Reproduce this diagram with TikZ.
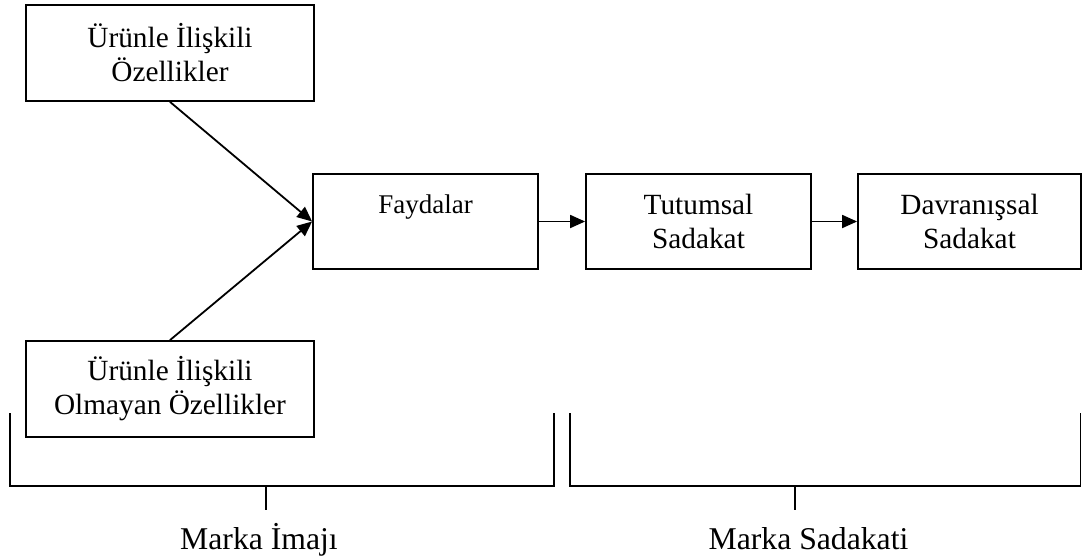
\documentclass[tikz,border=0pt]{standalone}
\usepackage{fontspec}
\setmainfont{Liberation Serif}
\usetikzlibrary{arrows.meta}
\begin{document}
\begin{tikzpicture}[x=1pt,y=-1pt,
  line width=1.8pt,
  box/.style={draw, rectangle, inner sep=0pt, align=center,
    font=\fontsize{29.3}{34}\selectfont},
  wide/.style={box, minimum width=288pt, minimum height=96pt},
  stage/.style={box, minimum width=225pt, minimum height=95pt},
  flow/.style={-{Triangle[length=15pt,width=13pt]}},
  brace/.style={line width=1.8pt},
  caption/.style={anchor=base, inner sep=0pt, font=\fontsize{31.7}{36}\selectfont}]
  \useasboundingbox (0,0) rectangle (1082,557);

  % attribute boxes on the left
  \node[wide] (urun) at (170,53) {Ürünle İlişkili\\Özellikler};
  \node[wide] (diger) at (170,389) {Ürünle İlişkili\\Olmayan Özellikler};

  % chain of stages
  \node[stage, font=\fontsize{27}{34}\selectfont] (fayda) at (425.5,221.5) {Faydalar\\\mbox{}};
  \node[stage] (tutum) at (698.5,221.5) {Tutumsal\\Sadakat};
  \node[stage, minimum width=223pt] (davranis) at (969.5,221.5) {Davranışsal\\Sadakat};

  % connectors
  \draw[flow] (urun.south) -- (fayda.west);
  \draw[flow] (diger.north) -- (fayda.west);
  \draw[flow] (fayda.east) -- (tutum.west);
  \draw[flow] (tutum.east) -- (davranis.west);

  % grouping brackets
  \coordinate (imTick) at (266,486);
  \coordinate (sdTick) at (795,486);
  \draw[brace] (10,413) -- (10,486) -- (554,486) -- (554,413);
  \draw[brace] (imTick) -- ++(0,24);
  \draw[brace] (570,413) -- (570,486) -- (1080.5,486) -- (1080.5,413);
  \draw[brace] (sdTick) -- ++(0,24);

  \node[caption] (imaj) at (259,549) {Marka İmajı};
  \node[caption] (sadakat) at (808.5,549) {Marka Sadakati};
\end{tikzpicture}
\end{document}
